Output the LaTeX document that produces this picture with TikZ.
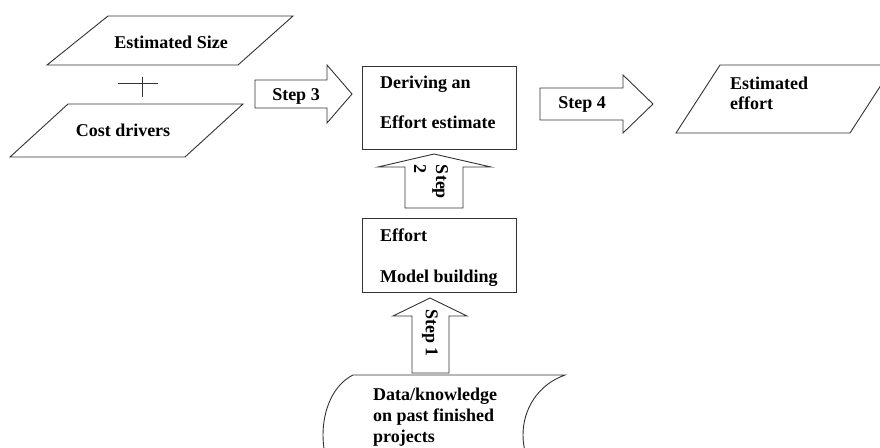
\documentclass[tikz,border=0pt]{standalone}
\usepackage{fontspec}
\setmainfont{Liberation Serif}
\begin{document}
\begin{tikzpicture}[x=1pt,y=-1pt,
  shp/.style={draw=black!80,line width=0.9pt,fill=white,line join=miter},
  lbl/.style={inner sep=0pt,font=\fontsize{18}{22}\selectfont\bfseries,text=black}]
\useasboundingbox (0,0) rectangle (880,447);
\fill[white] (0,0) rectangle (880,447);
\clip (0,0) rectangle (880,447);
% Estimated Size
\draw[shp] (108,16) -- (293,16) -- (238,65) -- (47,65) -- cycle;
\node[lbl,anchor=base] (size) at (171,48) {Estimated Size};
% plus
\draw[shp] (118,83) -- (158,83);
\draw[shp] (142,77) -- (142,97);
% Cost drivers
\draw[shp] (68,104) -- (243,104) -- (185,157) -- (10,157) -- cycle;
\node[lbl,anchor=base] (cost) at (123,136) {Cost drivers};
% Step 3
\draw[shp] (255,80) -- (327,80) -- (327,65) -- (352,94) -- (327,123) -- (327,108) -- (255,108) -- cycle;
\node[lbl,anchor=base] (s3) at (296,100) {Step 3};
% Deriving box
\draw[shp] (362,66) rectangle (516,149);
\node[lbl,anchor=base west] (der1) at (380,88) {Deriving an};
\node[lbl,anchor=base west] (der2) at (380,128) {Effort estimate};
% Step 4
\draw[shp] (540,88) -- (623,88) -- (623,75) -- (653,104) -- (623,133) -- (623,120) -- (540,120) -- cycle;
\node[lbl,anchor=base] (s4) at (582,108) {Step 4};
% Estimated effort
\draw[shp] (720,65) -- (894,65) -- (850,133) -- (676,133) -- cycle;
\node[lbl,anchor=base west] (eff1) at (730,89) {Estimated};
\node[lbl,anchor=base west] (eff2) at (730,109) {effort};
% Step 2
\draw[shp] (405,208) -- (405,167) -- (378,167) -- (434,154) -- (491,167) -- (463,167) -- (463,208) -- cycle;
\node[lbl,rotate=-90,align=left] (s2) at (431,182) {Step\\2};
% Effort model building box
\draw[shp] (362,218) rectangle (516,292);
\node[lbl,anchor=base west] (mb1) at (380,241) {Effort};
\node[lbl,anchor=base west] (mb2) at (380,282) {Model building};
% Step 1
\draw[shp] (412,373) -- (412,316) -- (393,316) -- (430,298) -- (467,316) -- (449,316) -- (449,373) -- cycle;
\node[lbl,rotate=-90] (s1) at (430,333) {Step 1};
% Stored data
\draw[shp] (353,375) -- (565,375) .. controls (509,395) and (509,475) .. (565,495)
  -- (353,495) .. controls (313,475) and (313,395) .. (353,375) -- cycle;
\node[lbl,anchor=base west] (d1) at (373,400) {Data/knowledge};
\node[lbl,anchor=base west] (d2) at (373,421) {on past finished};
\node[lbl,anchor=base west] (d3) at (373,442) {projects};
\end{tikzpicture}
\end{document}
